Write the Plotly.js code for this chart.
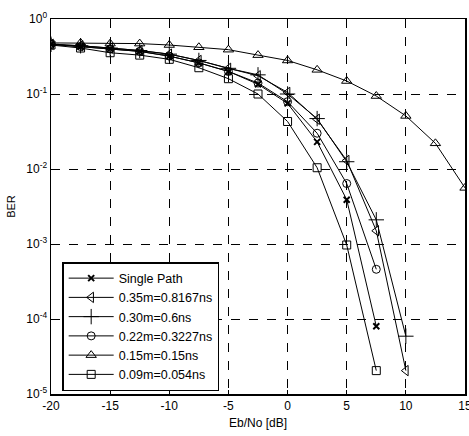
<!DOCTYPE html>
<html>
<head>
<meta charset="utf-8">
<script src="https://cdn.plot.ly/plotly-3.0.1.min.js"></script>
<style>html,body{margin:0;padding:0;background:#fff}#chart{width:469px;height:436px}</style>
</head>
<body>
<div id="chart"></div>
<script>
var ebno = [-20, -17.5, -15, -12.5, -10, -7.5, -5, -2.5, 0, 2.5, 5, 7.5, 10, 12.5, 15];

var seriesNames = ['Single Path', '0.35m=0.8167ns', '0.30m=0.6ns', '0.22m=0.3227ns', '0.15m=0.15ns', '0.09m=0.054ns'];

var berSingle = [0.46, 0.43, 0.40, 0.37, 0.32, 0.26, 0.20, 0.135, 0.075, 0.023, 0.0039, 0.00008];
var ber035 = [0.46, 0.44, 0.41, 0.38, 0.34, 0.28, 0.22, 0.175, 0.105, 0.046, 0.013, 0.0015, 0.0000205];
var ber030 = [0.46, 0.44, 0.41, 0.38, 0.34, 0.28, 0.22, 0.18, 0.10, 0.047, 0.0125, 0.0021, 0.000059];
var ber022 = [0.46, 0.43, 0.40, 0.37, 0.32, 0.26, 0.20, 0.14, 0.079, 0.030, 0.0064, 0.00046];
var ber015 = [0.48, 0.48, 0.47, 0.47, 0.45, 0.42, 0.39, 0.33, 0.28, 0.21, 0.149, 0.094, 0.051, 0.022, 0.0056];
var ber009 = [0.45, 0.41, 0.355, 0.33, 0.29, 0.224, 0.16, 0.10, 0.043, 0.0104, 0.00097, 0.0000205];

var yTickVals = [1e-5, 1e-4, 1e-3, 1e-2, 1e-1, 1];
var yTickText = ['10<sup>-5</sup>', '10<sup>-4</sup>', '10<sup>-3</sup>', '10<sup>-2</sup>', '10<sup>-1</sup>', '10<sup>0</sup>'];
var xTickVals = [-20, -15, -10, -5, 0, 5, 10, 15];
var xTickText = ['-20', '-15', '-10', '-5', '0', '5', '10', '15'];

var seriesData = [berSingle, ber035, ber030, ber022, ber015, ber009];
var symbols = ['x-thin-open', 'triangle-left-open', 'cross-thin-open', 'circle-open', 'triangle-up-open', 'square-open'];
var sizes = [6, 9, 11, 8, 9, 8];
var mlw = [2, 1, 1, 1, 1, 1];

var traces = seriesData.map(function (ys, i) {
  return {
    x: ebno.slice(0, ys.length),
    y: ys,
    name: seriesNames[i],
    type: 'scatter',
    mode: 'lines+markers',
    line: {color: '#000', width: 1},
    marker: {symbol: symbols[i], size: sizes[i], color: '#000', line: {color: '#000', width: mlw[i]}}
  };
});

var font = {family: 'Arial, "Liberation Sans", sans-serif', size: 12, color: '#000'};

var layout = {
  width: 469, height: 436,
  margin: {l: 51, r: 4, t: 19, b: 42},
  paper_bgcolor: '#fff', plot_bgcolor: '#fff',
  font: font,
  showlegend: true,
  legend: {
    x: 0.027, y: 0.352, xanchor: 'left', yanchor: 'top',
    bgcolor: '#fff', bordercolor: '#000', borderwidth: 1.5,
    font: {family: font.family, size: 12.5, color: '#000'},
    itemwidth: 45, tracegroupgap: 0
  },
  xaxis: {
    range: [-20, 15],
    tickvals: xTickVals, ticktext: xTickText,
    showgrid: true, gridcolor: '#000', griddash: 'dash', gridwidth: 1,
    zeroline: false,
    showline: true, linecolor: '#000', linewidth: 1.5, mirror: true,
    ticks: 'inside', ticklen: 4, tickcolor: '#000',
    tickfont: font, ticklabeloverflow: 'allow',
    title: {text: 'Eb/No [dB]', font: font, standoff: 6}
  },
  yaxis: {
    type: 'log',
    range: [-5, 0],
    tickvals: yTickVals, ticktext: yTickText,
    showgrid: true, gridcolor: '#000', griddash: 'dash', gridwidth: 1,
    zeroline: false,
    showline: true, linecolor: '#000', linewidth: 1.5, mirror: true,
    ticks: 'inside', ticklen: 4, tickcolor: '#000',
    tickfont: font,
    title: {text: 'BER', font: {family: font.family, size: 11, color: '#000'}, standoff: 8}
  }
};

Plotly.newPlot('chart', traces, layout, {displayModeBar: false, staticPlot: true});
</script>
</body>
</html>
